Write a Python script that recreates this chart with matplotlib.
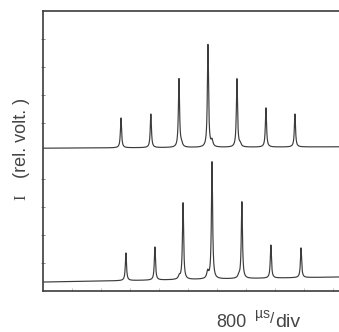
import numpy as np
import matplotlib
matplotlib.use("Agg")
import matplotlib.pyplot as plt

# peak positions (divisions) and peak tops (rel. volt.)
top_pos = [2.69, 3.72, 4.69, 5.69, 6.69, 7.69, 8.69]
top_peak = [6.18, 6.32, 7.57, 8.79, 7.57, 6.54, 6.32]
top_base = (5.10, 5.15)          # baseline at left / right end
top_sat_pos = [4.78, 5.83, 6.80]  # small side bumps
top_sat_h = [0.12, 0.22, 0.10]

bot_pos = [2.86, 3.86, 4.83, 5.83, 6.86, 7.86, 8.90]
bot_peak = [1.36, 1.57, 3.14, 4.61, 3.18, 1.64, 1.54]
bot_base = (0.32, 0.50)
bot_sat_pos = [4.70, 5.68, 6.75]
bot_sat_h = [0.12, 0.25, 0.08]

y_ticks = [1, 2, 3, 4, 6, 7, 8, 9]
x_ticks = [1, 2, 3, 4, 5, 6, 7, 8, 9, 10]

ink = "#3c3c3c"
W = 0.024   # peak half width


def trace(x, pos, peak, base, sat_pos, sat_h):
    b = base[0] + (base[1] - base[0]) * x / x.max()
    y = b.copy()
    for p, t in zip(pos, peak):
        bl = base[0] + (base[1] - base[0]) * p / x.max()
        y += (t - bl) / (1 + ((x - p) / W) ** 2)
    for p, h in zip(sat_pos, sat_h):
        y += h / (1 + ((x - p) / (W * 1.5)) ** 2)
    return y


x = np.linspace(0, 10.21, 6000)

fig = plt.figure(figsize=(3.39, 3.32), dpi=100)
ax = fig.add_axes([43 / 339, 41 / 332, 296 / 339, 280 / 332])

ax.plot(x, trace(x, top_pos, top_peak, top_base, top_sat_pos, top_sat_h),
        color=ink, lw=0.85)
ax.plot(x, trace(x, bot_pos, bot_peak, bot_base, bot_sat_pos, bot_sat_h),
        color=ink, lw=0.85)

ax.set_xlim(0, 10.21)
ax.set_ylim(0, 10)
ax.set_yticks(y_ticks)
ax.set_xticks(x_ticks)
ax.tick_params(axis="y", direction="inout", length=3, width=0.6, color="#777777",
               labelleft=False)
ax.tick_params(axis="x", direction="in", length=2, width=0.5, color="#aaaaaa",
               labelbottom=False)
ax.spines["right"].set_visible(False)
for s in ["left", "top", "bottom"]:
    ax.spines[s].set_color(ink)
    ax.spines[s].set_linewidth(1.2)

# axis labels
fs = dict(color="#454545", family="Liberation Sans")
fig.text(21 / 339, 1 - 197 / 332, "I", rotation=90, ha="center", va="center",
         fontsize=12, color="#454545", family="Liberation Serif")
fig.text(21 / 339, 1 - 138 / 332, "(rel. volt. )", rotation=90, ha="center",
         va="center", fontsize=13, **fs)

fig.text(216 / 339, 1 - 327 / 332, "800", fontsize=13, va="baseline", **fs)
fig.text(255 / 339, 1 - 318 / 332, "\u00b5s", fontsize=10, va="baseline", **fs)
fig.text(270.5 / 339, 1 - 323 / 332, "/", fontsize=11, va="baseline", **fs)
fig.text(275 / 339, 1 - 327 / 332, "div", fontsize=14, va="baseline", **fs)

fig.savefig("out.png", dpi=100)
